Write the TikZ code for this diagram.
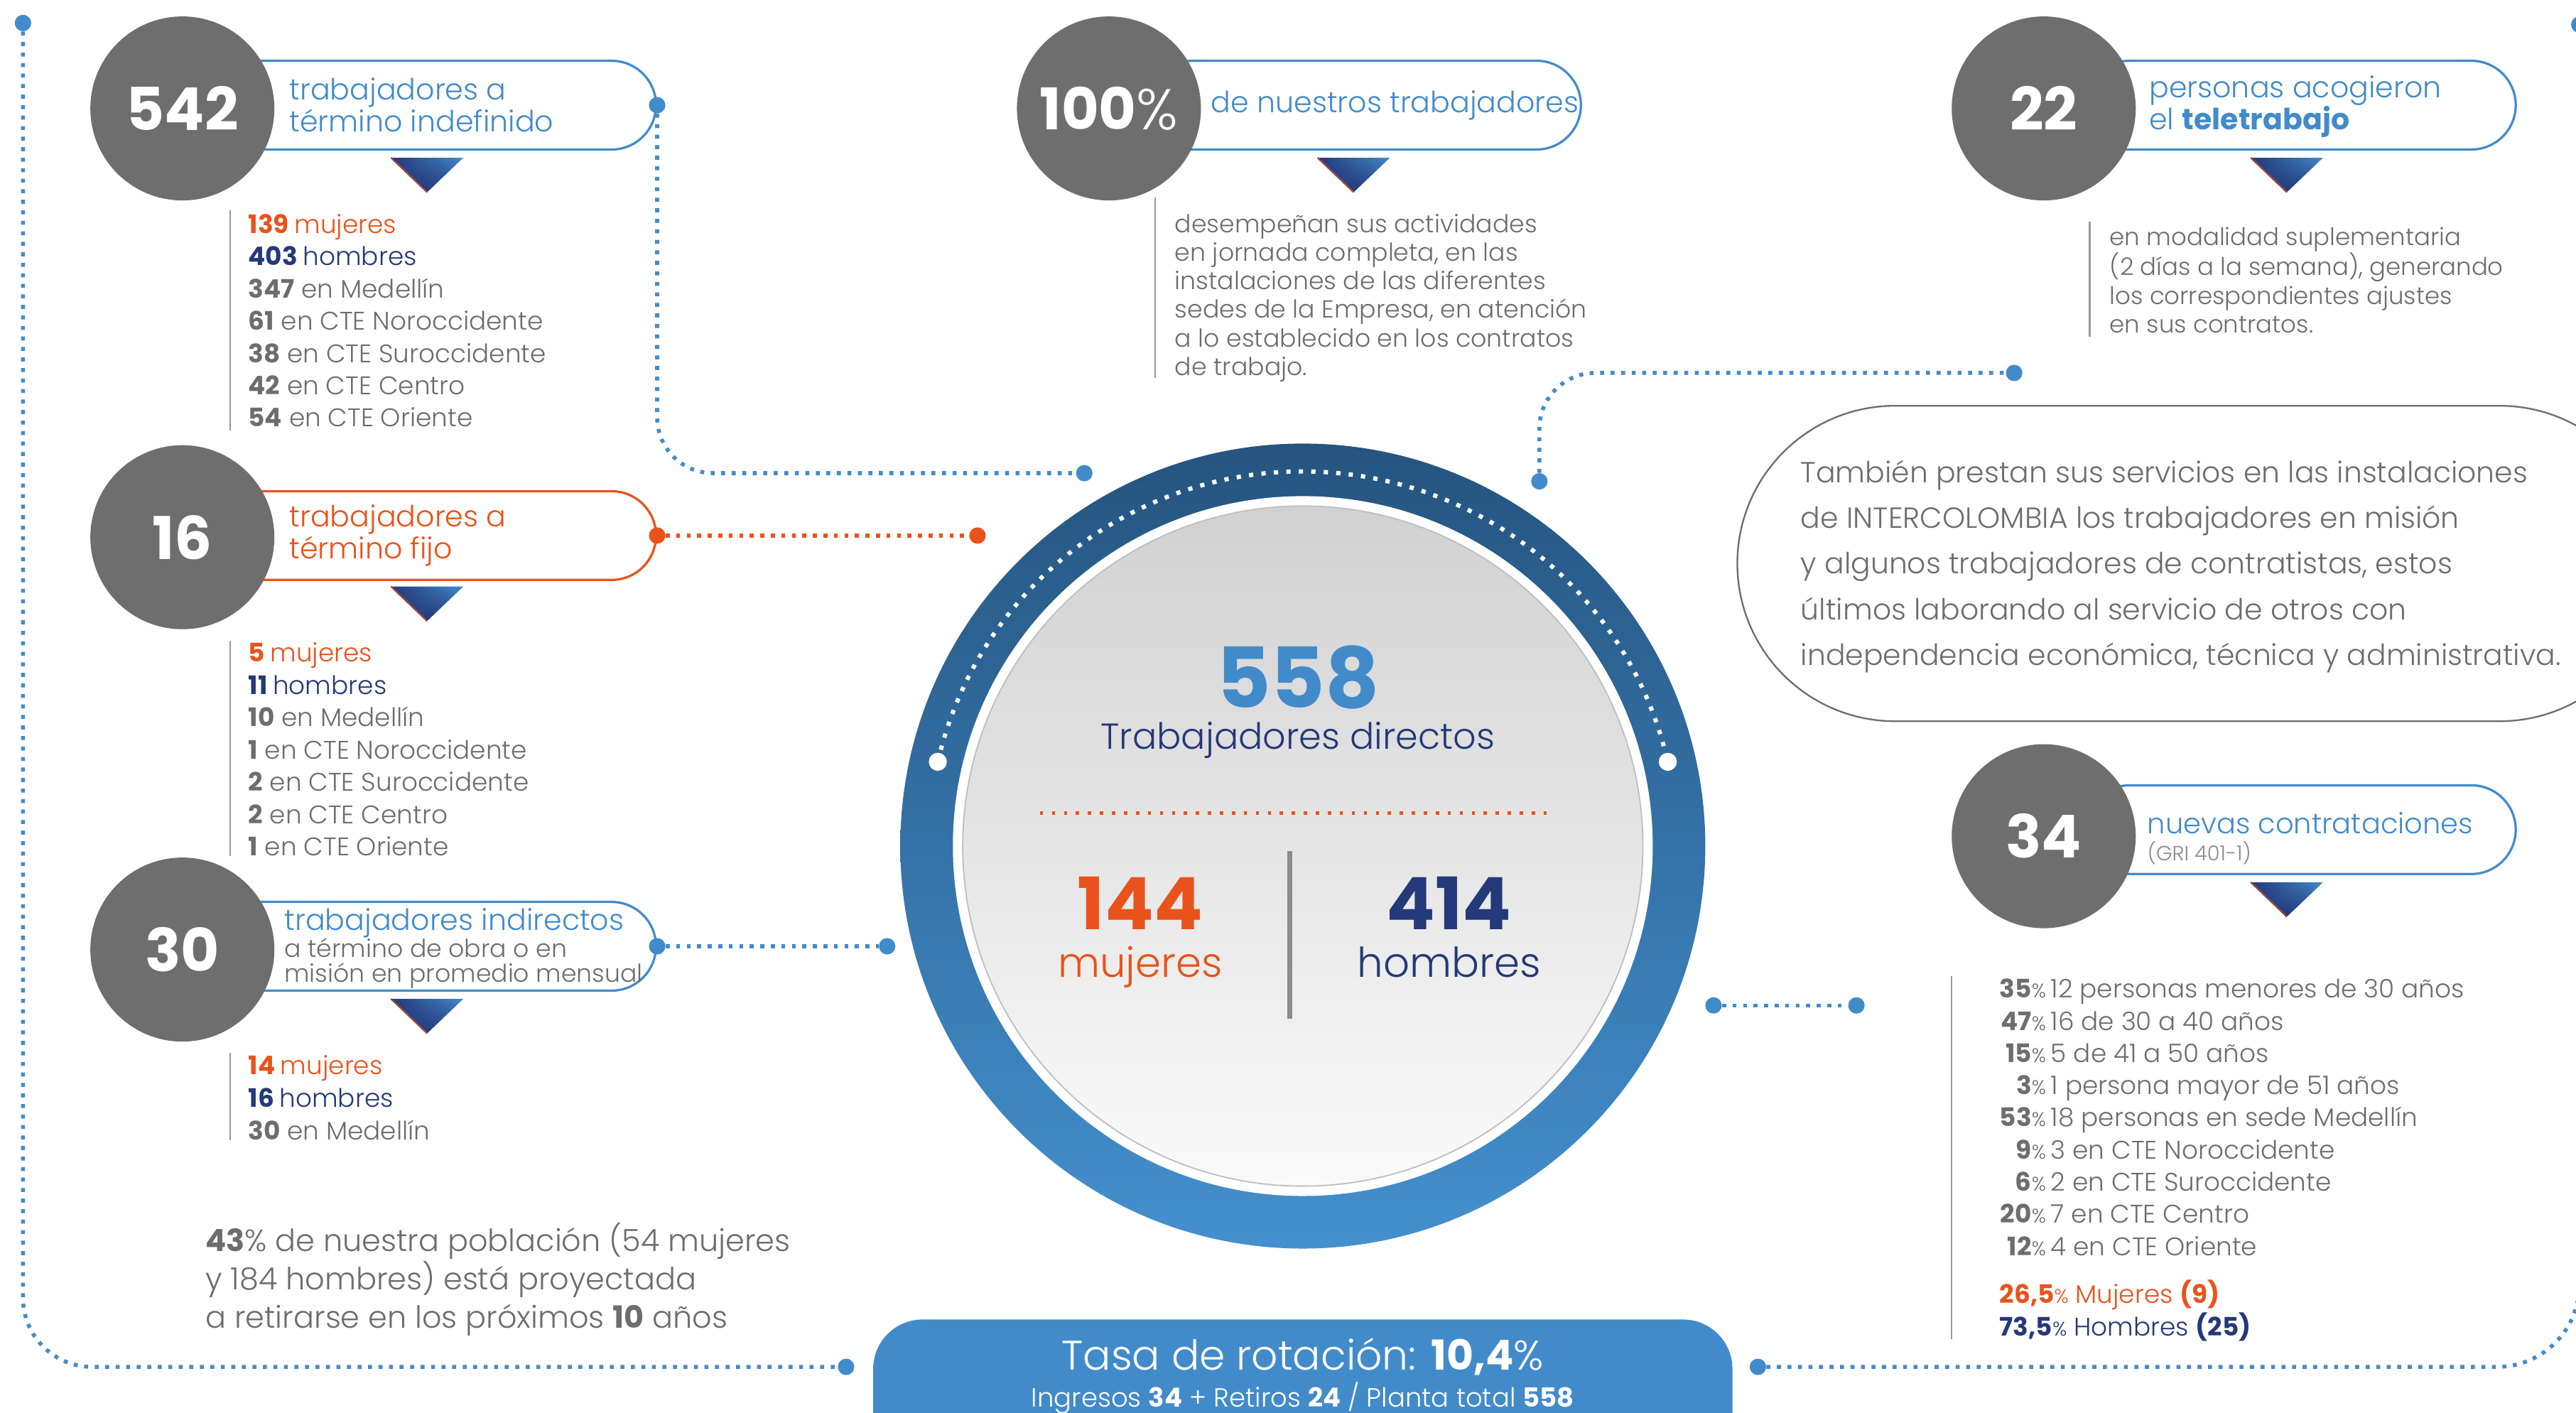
\documentclass[tikz,border=0pt]{standalone}
\usepackage{fontspec}
\setmainfont{Poppins}[UprightFont=* Light, BoldFont=* Bold]
\usetikzlibrary{shadings}

\definecolor{numgray}{HTML}{6E6E6E}
\definecolor{txtgray}{HTML}{6D6D6D}
\definecolor{cblue}{HTML}{428BCB}
\definecolor{navy}{HTML}{24397A}
\definecolor{corange}{HTML}{E9531B}
\definecolor{ringtop}{HTML}{25547F}
\definecolor{ringbot}{HTML}{4490CF}

\newcommand{\fsz}[2]{\fontsize{#1}{#2}\selectfont}
\newcommand{\pct}{{\fsz{12}{19.6}\%}}

\begin{document}
\begin{tikzpicture}[x=1pt,y=-1pt,
  numcirc/.style={circle,fill=numgray,minimum size=112,inner sep=0,text=white,font=\fsz{36}{36}\bfseries},
  tagbox/.style={draw=cblue,line width=1.4,rounded corners=27,minimum height=54,inner sep=0,anchor=east,fill=white},
  dot/.style={circle,fill=cblue,inner sep=0,minimum size=10},
  wdot/.style={circle,fill=white,inner sep=0,minimum size=11},
  link/.style={cblue,line width=2.4,dash pattern=on 2.4 off 4},
  gline/.style={txtgray!70,line width=1},
  listtxt/.style={anchor=north west,inner sep=0,align=left,text=txtgray,font=\fsz{15.5}{19.67}},
  boxtxt/.style={anchor=west,inner sep=0,align=left,text=cblue,font=\fsz{17.8}{19.5}},
  partxt/.style={anchor=north west,inner sep=0,align=left,text=txtgray,font=\fsz{15}{17.4}}]

\useasboundingbox (0,0) rectangle (1568,860);
\fill[white] (0,0) rectangle (1568,860);

% boxes behind the number circles
\node[tagbox,minimum width=270] (b542) at (400,64) {};
\node[tagbox,minimum width=270,draw=corange] (b16) at (400,326) {};
\node[tagbox,minimum width=270] (b30) at (400,576) {};
\node[tagbox,minimum width=263] (b100) at (963,64) {};
\node[tagbox,minimum width=262] (b22) at (1532,64) {};
\node[tagbox,minimum width=262] (b34) at (1532,505) {};

\node[numcirc] (n542) at (111,66) {542};
\node[numcirc] (n16) at (111,327) {16};
\node[numcirc] (n30) at (111,578) {30};
\node[numcirc,font=\fsz{35}{35}\bfseries] (n100) at (675,66) {100{\mdseries\%}};
\node[numcirc] (n22) at (1244,66) {22};
\node[numcirc] (n34) at (1244,509) {34};

\node[boxtxt] at (176,64) {trabajadores a\\término indefinido};
\node[boxtxt,text=corange] at (176,326) {trabajadores a\\término fijo};
\node[boxtxt] at (173,562) {trabajadores indirectos};
\node[partxt,font=\fsz{15}{15}] at (173,571) {a término de obra o en\\misión en promedio mensual};
\node[boxtxt] at (737,64) {de nuestros trabajadores};
\node[boxtxt] at (1308,65) {personas acogieron\\el {\bfseries teletrabajo}};
\node[boxtxt,font=\fsz{17.3}{19}] at (1307,501) {nuevas contrataciones};
\node[boxtxt,text=txtgray!80,font=\fsz{12.5}{12}] at (1307,519) {(GRI 401-1)};

% triangles under the boxes
\foreach \tx/\ty in {260/96, 260/357, 260/608, 824/96, 1392/96, 1392/537} {
  \shade[upper left=navy,upper right=cblue,lower left=navy,lower right=navy]
    (\tx-22,\ty) -- (\tx+22,\ty) -- (\tx,\ty+21) -- cycle;
  \draw[corange!60!navy,line width=1] (\tx-22,\ty) -- (\tx,\ty+21);
}

% lists
\draw[gline] (140,128) -- (140,262);
\node[listtxt] (l542) at (151,130) {{\color{corange}\bfseries 139 \mdseries mujeres}\\
  {\color{navy}\bfseries 403 \mdseries hombres}\\
  {\bfseries 347} en Medellín\\
  {\bfseries 61} en CTE Noroccidente\\
  {\bfseries 38} en CTE Suroccidente\\
  {\bfseries 42} en CTE Centro\\
  {\bfseries 54} en CTE Oriente};
\draw[gline] (140,390) -- (140,521);
\node[listtxt] (l16) at (151,391) {{\color{corange}\bfseries 5 \mdseries mujeres}\\
  {\color{navy}\bfseries 11 \mdseries hombres}\\
  {\bfseries 10} en Medellín\\
  {\bfseries 1} en CTE Noroccidente\\
  {\bfseries 2} en CTE Suroccidente\\
  {\bfseries 2} en CTE Centro\\
  {\bfseries 1} en CTE Oriente};
\draw[gline] (140,641) -- (140,694);
\node[listtxt,font=\fsz{15.5}{20}] (l30) at (151,642) {{\color{corange}\bfseries 14 \mdseries mujeres}\\
  {\color{navy}\bfseries 16 \mdseries hombres}\\
  {\bfseries 30} en Medellín};

\draw[gline] (703,120) -- (703,230);
\node[partxt] (p100) at (715,130) {desempeñan sus actividades\\
  en jornada completa, en las\\
  instalaciones de las diferentes\\
  sedes de la Empresa, en atención\\
  a lo establecido en los contratos\\
  de trabajo.};
\draw[gline] (1272,135) -- (1272,205);
\node[partxt,font=\fsz{14.7}{17.33}] (p22) at (1284,138) {en modalidad suplementaria\\
  (2 días a la semana), generando\\
  los correspondientes ajustes\\
  en sus contratos.};

\node[listtxt,font=\fsz{18.6}{23.5}] (note) at (125,744) {{\bfseries 43}\% de nuestra población (54 mujeres\\
  y 184 hombres) está proyectada\\
  a retirarse en los próximos {\bfseries 10} años};

% side note box
\node[draw=txtgray,line width=1,rounded corners=96,minimum width=560,minimum height=192,anchor=west] (tamb) at (1057,343) {};
\node[listtxt,font=\fsz{17.7}{27.75}] at (1096,280) {También prestan sus servicios en las instalaciones\\
  de INTERCOLOMBIA los trabajadores en misión\\
  y algunos trabajadores de contratistas, estos\\
  últimos laborando al servicio de otros con\\
  independencia económica, técnica y administrativa.};

% new hires
\draw[gline] (1188,594) -- (1188,815);
\node[listtxt,font=\fsz{15.5}{19.6}] (l34) at (1217,593.5) {\begin{tabular}{@{}r@{\hspace{3pt}}l@{}}
  {\bfseries 35}\pct & 12 personas menores de 30 años\\
  {\bfseries 47}\pct & 16 de 30 a 40 años\\
  {\bfseries 15}\pct & 5 de 41 a 50 años\\
  {\bfseries 3}\pct & 1 persona mayor de 51 años\\
  {\bfseries 53}\pct & 18 personas en sede Medellín\\
  {\bfseries 9}\pct & 3 en CTE Noroccidente\\
  {\bfseries 6}\pct & 2 en CTE Suroccidente\\
  {\bfseries 20}\pct & 7 en CTE Centro\\
  {\bfseries 12}\pct & 4 en CTE Oriente\\[9pt]
  \multicolumn{2}{@{}l@{}}{\color{corange}{\bfseries 26,5}\pct\ Mujeres {\bfseries (9)}}\\
  \multicolumn{2}{@{}l@{}}{\color{navy}{\bfseries 73,5}\pct\ Hombres {\bfseries (25)}}
\end{tabular}};

% central circle
\shade[top color=ringtop,middle color=ringtop!60!ringbot,bottom color=ringbot] (793,515) circle (245);
\fill[white] (793,515) circle (213);
\shade[top color=black!18,bottom color=black!2,draw=black!25,line width=0.8] (793,515) circle (207);
\draw[white,line width=2.6,dash pattern=on 2.6 off 5] (793,515) ++(193:228) arc[start angle=193,end angle=347,radius=228];
\node[wdot] (wa) at ([shift={(193:228)}]793,515) {};
\node[wdot] (wb) at ([shift={(347:228)}]793,515) {};

\node[text=cblue,font=\fsz{51}{51}\bfseries,anchor=base,inner sep=0] (tot) at (790,431) {558};
\node[text=navy,font=\fsz{22}{22},anchor=base,inner sep=0] (totl) at (790,456) {Trabajadores directos};
\draw[corange,line width=2,dash pattern=on 2 off 5.3] (633,495) -- (945,495);
\node[text=corange,font=\fsz{44}{44}\bfseries,anchor=base] (muj) at (694,566) {144};
\node[text=corange,font=\fsz{25}{25},anchor=base] (mujl) at (694,595) {mujeres};
\draw[black!45,line width=3] (785,518) -- (785,620);
\node[text=navy,font=\fsz{44}{44}\bfseries,anchor=base] (hom) at (882,566) {414};
\node[text=navy,font=\fsz{25}{25},anchor=base] (homl) at (882,595) {hombres};

% rotation pill
\node[fill=cblue,rounded corners=30,minimum width=523,minimum height=110,anchor=north,inner sep=0] (rot) at (793,803) {};
\node[text=white,font=\fsz{25.2}{26}] (rott) at (793,826) {Tasa de rotación: {\bfseries 10,4}\%};
\node[text=white,font=\fsz{16}{16}] (rots) at (793,851) {Ingresos {\bfseries 34} + Retiros {\bfseries 24} / Planta total {\bfseries 558}};

% connectors
\node[dot] (d542) at (b542.east) {};
\node[dot] (c542) at (660,288) {};
\node[dot,fill=corange] (d16) at (b16.east) {};
\node[dot,fill=corange] (c16) at (595,326) {};
\node[dot] (d30) at (b30.east) {};
\node[dot] (c30) at (540,576) {};
\node[dot] (ctop) at (937,293) {};
\node[dot] (ttop) at (1226,227) {};
\node[dot] (cr) at (1043,612) {};
\node[dot] (cr2) at (1130,612) {};
\node[dot] (tl) at (14,14) {};
\node[dot] (bl) at (515,832) {};
\node[dot] (br) at (1070,832) {};
\node[dot] (tr) at (1570,15) {};

\draw[link,rounded corners=34] (d542) |- (c542);
\draw[link,corange] (d16) -- (c16);
\draw[link] (d30) -- (c30);
\draw[link,rounded corners=34] (ctop) |- (ttop);
\draw[link] (cr) -- (cr2);
\draw[link,rounded corners=42] (tl) |- (bl);
\draw[link,rounded corners=50] (br) -| (tr);
\end{tikzpicture}
\end{document}
